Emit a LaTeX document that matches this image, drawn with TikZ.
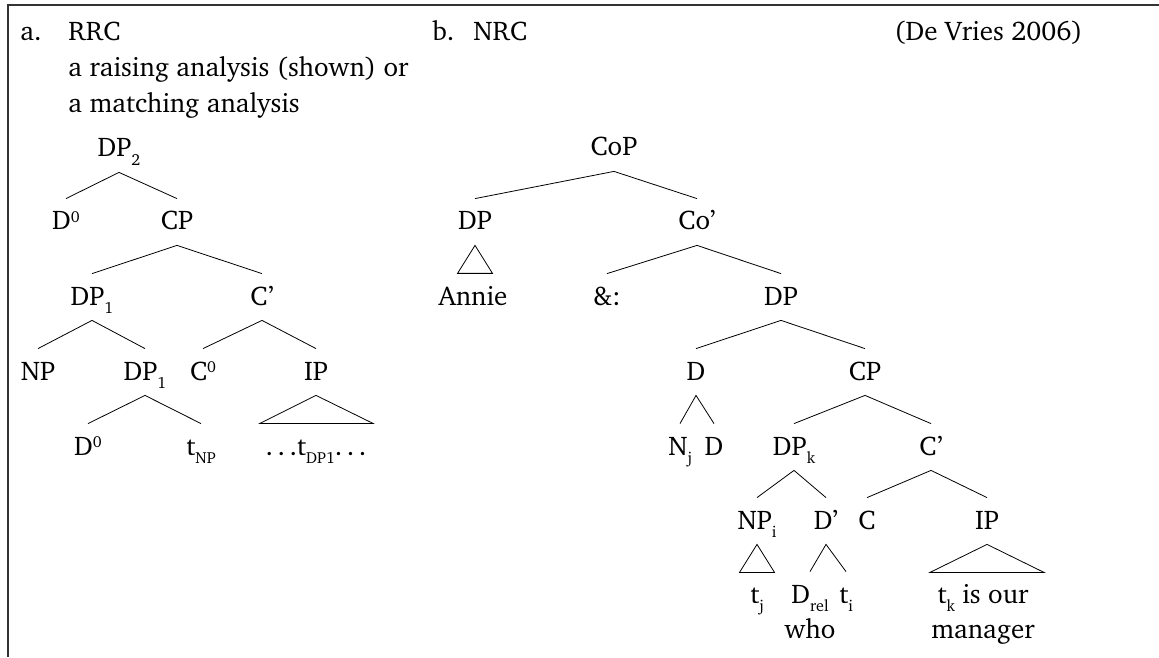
\documentclass[tikz,border=0pt]{standalone}
\usepackage[T1]{fontenc}
\renewcommand{\rmdefault}{bch}
\newcommand{\lsub}[1]{\raisebox{-0.3em}{\footnotesize #1}}
\newcommand{\lsup}[1]{\raisebox{0.28em}{\footnotesize #1}}
\begin{document}
\begin{tikzpicture}[x=0.5pt,y=-0.5pt,
	every node/.style={font=\fontsize{13.5}{18}\selectfont},
	lab/.style={anchor=base,inner sep=0pt,text height=15.5pt,text depth=7.5pt},
	txt/.style={anchor=base west,inner sep=0pt}]
	\useasboundingbox (0,0) rectangle (1159,657);
	\draw[line width=0.75pt,black!80] (1159,5)--(8,5)--(8,657);
	\foreach \x/\y/\texn in {20/41/a.,68/41/RRC,
	68/77/a raising analysis (shown) or,68/113/a matching analysis,
	432/41/b.,473/41/NRC} \path
	(\x,\y)node[txt]{\texn};
	\path (1083,41)node[anchor=base east,inner sep=0pt]{(De Vries 2006)};
	\foreach \n/\x/\y/\texn in {dpa/119/157/DP\lsub{2},
	da/66/230/D\lsup{0},cpa/177/230/CP,
	dpa1/92/305/DP\lsub{1},cbara/262/305/C',
	npa/38/380/NP,dpa2/145/380/DP\lsub{1},c0a/203/380/C\lsup{0},ipa/316/380/IP,
	db/88/455/D\lsup{0},tnp/201/455/t\lsub{NP},tdp/316/455/.\,.\,.t\lsub{DP1}.\,.\,.}
	\path (\x,\y) node[lab](\n){\texn};
	\foreach \n/\x/\y/\texn in {cop/614/156/CoP,
	dpr/475/230/DP,cobar/697/230/Co',
	annie/473/305/Annie,amp/607/305/\&:,dpr2/781/305/DP,
	dr/696/380/D,cpr/865/380/CP,
	nj/680/455/N\lsub{j},dr2/714/455/D,dpk/794/455/DP\lsub{k},cbarr/931/455/C',
	npi/757/529/NP\lsub{i},dbar/826/529/D',cr/867/529/C,ipr/987/529/IP,
	tj/757/603/t\lsub{j},drel/810/603/D\lsub{rel},ti/846/603/t\lsub{i},
	tk/983/603/t\lsub{k} is our,who/810/638/who,mgr/983/638/manager}
	\path (\x,\y) node[lab](\n){\texn};
	\draw (da.north)--(dpa.south)--(cpa.north);
	\draw (dpa1.north)--(cpa.south)--(cbara.north);
	\draw (npa.north)--(dpa1.south)--(dpa2.north);
	\draw (c0a.north)--(cbara.south)--(ipa.north);
	\draw (db.north)--(dpa2.south)--(tnp.north);
	\draw (ipa.south)--++(-56,28)--++(113,0)--cycle;
	\draw (dpr.north)--(cop.south)--(cobar.north);
	\draw (dpr.south)--++(-17.5,28)--++(35,0)--cycle;
	\draw (amp.north)--(cobar.south)--(dpr2.north);
	\draw (dr.north)--(dpr2.south)--(cpr.north);
	\draw (nj.north)--(dr.south)--(dr2.north);
	\draw (dpk.north)--(cpr.south)--(cbarr.north);
	\draw (npi.north)--(dpk.south)--(dbar.north);
	\draw (cr.north)--(cbarr.south)--(ipr.north);
	\draw (npi.south)--++(-17.5,28)--++(35,0)--cycle;
	\draw (drel.north)--(dbar.south)--(ti.north);
	\draw (ipr.south)--++(-57,28)--++(114,0)--cycle;
\end{tikzpicture}
\end{document}
